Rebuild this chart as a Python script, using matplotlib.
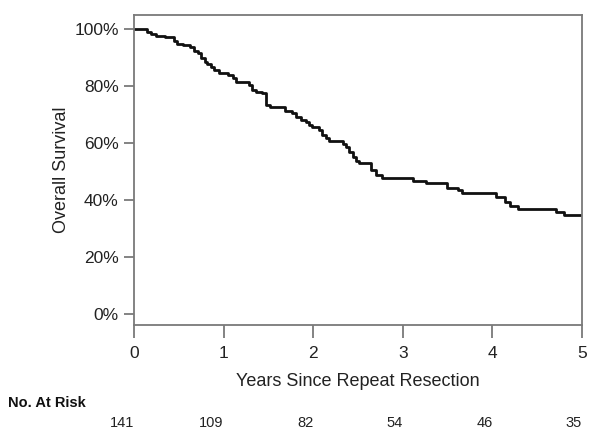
import matplotlib.pyplot as plt
from matplotlib.ticker import PercentFormatter

plt.rcParams['font.family'] = ['Liberation Sans', 'DejaVu Sans']

# Kaplan-Meier steps: time of each event (years) and survival after it
times = [0, 0.15, 0.19, 0.25, 0.35, 0.45, 0.48, 0.55, 0.63, 0.67, 0.71, 0.75,
         0.79, 0.82, 0.86, 0.89, 0.95, 1.05, 1.10, 1.14, 1.28, 1.32, 1.36,
         1.43, 1.47, 1.52, 1.68, 1.76, 1.81, 1.86, 1.92, 1.95, 1.99, 2.06,
         2.10, 2.14, 2.18, 2.33, 2.37, 2.40, 2.44, 2.48, 2.51, 2.64, 2.70,
         2.77, 3.11, 3.26, 3.49, 3.62, 3.66, 4.04, 4.14, 4.20, 4.28, 4.71,
         4.80, 5.0]
survival = [1.0, 0.991, 0.982, 0.977, 0.971, 0.959, 0.947, 0.944, 0.936,
            0.924, 0.915, 0.897, 0.885, 0.877, 0.865, 0.856, 0.845, 0.839,
            0.827, 0.815, 0.804, 0.786, 0.780, 0.774, 0.733, 0.725, 0.713,
            0.704, 0.692, 0.681, 0.675, 0.663, 0.655, 0.646, 0.628, 0.616,
            0.607, 0.595, 0.585, 0.567, 0.550, 0.538, 0.529, 0.505, 0.488,
            0.476, 0.468, 0.461, 0.443, 0.435, 0.426, 0.409, 0.391, 0.377,
            0.368, 0.359, 0.347, 0.347]

risk_years = [0, 1, 2, 3, 4, 5]
at_risk = [141, 109, 82, 54, 46, 35]

fig = plt.figure(figsize=(6.04, 4.40), dpi=100)
ax = fig.add_axes([0.2219, 0.2614, 0.7417, 0.7045])

ax.step(times, survival, where='post', color='#111111', linewidth=2.0)

ax.set_xlim(0, 5)
ax.set_ylim(-0.039, 1.049)
ax.set_xticks(risk_years)
ax.set_yticks([0, 0.2, 0.4, 0.6, 0.8, 1.0])
ax.yaxis.set_major_formatter(PercentFormatter(1.0, decimals=0))

for s in ax.spines.values():
    s.set_color('#7a7a7a')
    s.set_linewidth(1.3)
ax.tick_params(axis='x', length=9, width=1.3, color='#7a7a7a', pad=6,
               labelsize=12.5, labelcolor='#222222')
ax.tick_params(axis='y', length=7, width=1.3, color='#7a7a7a', pad=4,
               labelsize=12.5, labelcolor='#222222')

ax.set_xlabel('Years Since Repeat Resection', fontsize=13, color='#222222',
              labelpad=9)
ax.set_ylabel('Overall Survival', fontsize=13, color='#222222', labelpad=3)

# number at risk table
fig.text(8 / 604, 1 - 403 / 440, 'No. At Risk', fontsize=10.5,
         fontweight='bold', color='#111111', va='center', ha='left')
for yr, n in zip(risk_years, at_risk):
    ax.annotate(str(n), xy=(yr, 0), xycoords=('data', 'figure fraction'),
                xytext=(0, 440 - 423), textcoords='offset pixels',
                ha='right', va='center', fontsize=10.5, color='#222222',
                annotation_clip=False)

fig.savefig('out.png', dpi=100)
